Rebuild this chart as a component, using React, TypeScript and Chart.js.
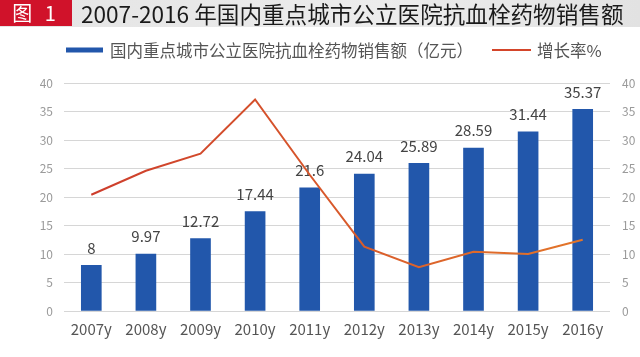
import React, { useEffect, useRef } from "react";
import { Chart, registerables } from "chart.js";

Chart.register(...registerables);

const categories = ["2007y", "2008y", "2009y", "2010y", "2011y", "2012y", "2013y", "2014y", "2015y", "2016y"];
const salesValues = [8, 9.97, 12.72, 17.44, 21.6, 24.04, 25.89, 28.59, 31.44, 35.37];
const growthValues = [20.4, 24.6, 27.6, 37.1, 23.9, 11.3, 7.7, 10.4, 10.0, 12.5];
const yTicks = [0, 5, 10, 15, 20, 25, 30, 35, 40];
const salesLabel = "国内重点城市公立医院抗血栓药物销售额（亿元）";
const growthLabel = "增长率%";
const titleText = "2007-2016 年国内重点城市公立医院抗血栓药物销售额";

const FONT = '"Noto Sans CJK SC", "Noto Sans", sans-serif';
const BAR_COLOR = "#2257ab";

const legendPlugin = {
  id: "customLegend",
  afterDraw(chart: any) {
    const ctx = chart.ctx;
    ctx.save();
    ctx.font = `16.5px ${FONT}`;
    ctx.textBaseline = "middle";
    const y = 50;
    ctx.fillStyle = BAR_COLOR;
    ctx.fillRect(66, y - 2.5, 37, 5);
    ctx.fillStyle = "#555";
    ctx.fillText(chart.data.datasets[0].label, 110, y + 1);
    ctx.strokeStyle = "#d4452a";
    ctx.lineWidth = 2;
    ctx.beginPath();
    ctx.moveTo(492, y);
    ctx.lineTo(531, y);
    ctx.stroke();
    ctx.fillStyle = "#555";
    ctx.fillText(chart.data.datasets[1].label, 537, y + 1);
    ctx.restore();
  },
};

const barLabelPlugin = {
  id: "barLabels",
  afterDatasetDraw(chart: any, args: any) {
    if (args.index !== 0) return;
    const ctx = chart.ctx;
    const meta = chart.getDatasetMeta(0);
    ctx.save();
    ctx.font = `15px ${FONT}`;
    ctx.fillStyle = "#444";
    ctx.textAlign = "center";
    ctx.textBaseline = "bottom";
    meta.data.forEach((bar: any, i: number) => {
      ctx.fillText(String(salesValues[i]), bar.x, bar.y - 10);
    });
    ctx.restore();
  },
};

export default function App() {
  const ref = useRef<HTMLCanvasElement>(null);
  useEffect(() => {
    const canvas = ref.current!;
    const ctx = canvas.getContext("2d")!;
    const grad = ctx.createLinearGradient(64, 0, 610, 0);
    grad.addColorStop(0, "#cc3a2c");
    grad.addColorStop(1, "#e4782a");
    const chart = new Chart(canvas, {
      type: "bar",
      data: {
        labels: categories,
        datasets: [
          {
            type: "bar",
            label: salesLabel,
            data: salesValues,
            backgroundColor: BAR_COLOR,
            barThickness: 20,
            yAxisID: "y",
            order: 1,
          },
          {
            type: "line",
            label: growthLabel,
            data: growthValues,
            borderColor: grad,
            borderWidth: 2,
            pointRadius: 0,
            tension: 0,
            fill: false,
            yAxisID: "y1",
            order: 0,
          },
        ] as any,
      },
      options: {
        animation: false,
        responsive: false,
        maintainAspectRatio: false,
        layout: { padding: { top: 83, left: 0, right: 0, bottom: 0 } },
        plugins: { legend: { display: false }, tooltip: { enabled: false }, title: { display: false } },
        scales: {
          x: {
            grid: { display: false, drawTicks: false },
            border: { display: false },
            ticks: { color: "#555", font: { family: FONT, size: 15 }, padding: 9, maxRotation: 0 },
            afterFit: (s: any) => {
              s.height = 46;
            },
          },
          y: {
            position: "left",
            min: 0,
            max: 40,
            afterBuildTicks: (s: any) => {
              s.ticks = yTicks.map((v) => ({ value: v }));
            },
            grid: { color: "#d6d6d6", lineWidth: 1, drawTicks: false },
            border: { display: false },
            ticks: { color: "#9a9a9a", font: { family: FONT, size: 12 }, padding: 11 },
            afterFit: (s: any) => {
              s.width = 64;
            },
          },
          y1: {
            position: "right",
            min: 0,
            max: 40,
            afterBuildTicks: (s: any) => {
              s.ticks = yTicks.map((v) => ({ value: v }));
            },
            grid: { display: false, drawTicks: false },
            border: { display: false },
            ticks: { color: "#9a9a9a", font: { family: FONT, size: 12 }, padding: 12 },
            afterFit: (s: any) => {
              s.width = 30;
            },
          },
        },
      } as any,
      plugins: [legendPlugin, barLabelPlugin],
    });
    return () => chart.destroy();
  }, []);

  return (
    <div style={{ position: "fixed", left: 0, top: 0, width: 640, height: 357, background: "#fff", overflow: "hidden" }}>
      <canvas ref={ref} width={640} height={357} style={{ position: "absolute", left: 0, top: 0, width: 640, height: 357 }} />
      <div
        style={{
          position: "absolute",
          left: 0,
          top: 0,
          width: 640,
          height: 27,
          background: "linear-gradient(to right, #e4e4e4, #ececec 60%, #e2e2e2)",
          fontFamily: FONT,
        }}
      >
        <div
          style={{
            position: "absolute",
            left: 0,
            top: 0,
            width: 72,
            height: 26,
            background: "#d0122a",
            color: "#fff",
            fontSize: 20,
            lineHeight: "26px",
            textAlign: "center",
            letterSpacing: 4,
          }}
        >
          图 1
        </div>
        <div
          style={{
            position: "absolute",
            left: 81,
            top: 0,
            height: 27,
            lineHeight: "27px",
            fontSize: 22.6,
            color: "#1a1a1a",
            whiteSpace: "nowrap",
          }}
        >
          {titleText}
        </div>
      </div>
    </div>
  );
}
